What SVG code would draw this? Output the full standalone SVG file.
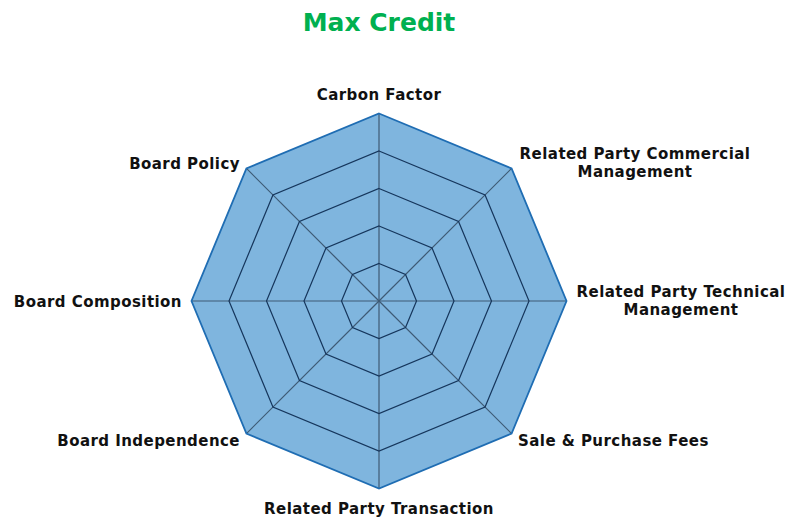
<svg xmlns="http://www.w3.org/2000/svg" width="788" height="518" viewBox="0 0 788 518">
<style>
.lbl{font-family:"DejaVu Sans","Verdana",sans-serif;font-weight:bold;font-size:15px;letter-spacing:0.45px;fill:#111}
.ring{fill:none;stroke:#16365c;stroke-width:1.2}
.spoke{stroke:#3e5a74;stroke-width:1.2}
</style>
<rect width="788" height="518" fill="#fff"/>
<text x="379" y="31" text-anchor="middle" style="font-family:'DejaVu Sans',Verdana,sans-serif;font-weight:bold;font-size:25px;fill:#00b050">Max Credit</text>
<g id="data">
<polygon points="379,113.5 511.58,168.42 566.5,301 511.58,433.58 379,488.5 246.42,433.58 191.5,301 246.42,168.42" fill="#7fb5de" stroke="none"/>
</g>
<g id="connectors">
<line class="spoke" x1="379" y1="301" x2="379" y2="113.5"/>
<line class="spoke" x1="379" y1="301" x2="511.58" y2="168.42"/>
<line class="spoke" x1="379" y1="301" x2="566.5" y2="301"/>
<line class="spoke" x1="379" y1="301" x2="511.58" y2="433.58"/>
<line class="spoke" x1="379" y1="301" x2="379" y2="488.5"/>
<line class="spoke" x1="379" y1="301" x2="246.42" y2="433.58"/>
<line class="spoke" x1="379" y1="301" x2="191.5" y2="301"/>
<line class="spoke" x1="379" y1="301" x2="246.42" y2="168.42"/>
</g>
<g id="grid">
<polygon class="ring" points="379,151 485.07,194.93 529,301 485.07,407.07 379,451 272.93,407.07 229,301 272.93,194.93"/>
<polygon class="ring" points="379,188.5 458.55,221.45 491.5,301 458.55,380.55 379,413.5 299.45,380.55 266.5,301 299.45,221.45"/>
<polygon class="ring" points="379,226 432.03,247.97 454,301 432.03,354.03 379,376 325.97,354.03 304,301 325.97,247.97"/>
<polygon class="ring" points="379,263.5 405.52,274.48 416.5,301 405.52,327.52 379,338.5 352.48,327.52 341.5,301 352.48,274.48"/>
<polygon points="379,113.5 511.58,168.42 566.5,301 511.58,433.58 379,488.5 246.42,433.58 191.5,301 246.42,168.42" fill="none" stroke="#1f6db3" stroke-width="1.8" stroke-linejoin="miter"/>
</g>
<g id="carbon-factor"><text class="lbl" x="379" y="100" text-anchor="middle">Carbon Factor</text></g>
<g id="rp-commercial"><text class="lbl" x="635" y="159" text-anchor="middle">Related Party Commercial</text><text class="lbl" x="635" y="177" text-anchor="middle">Management</text></g>
<g id="rp-technical"><text class="lbl" x="681" y="297" text-anchor="middle">Related Party Technical</text><text class="lbl" x="681" y="315" text-anchor="middle">Management</text></g>
<g id="sale-purchase"><text class="lbl" x="518" y="446">Sale &amp; Purchase Fees</text></g>
<g id="rp-transaction"><text class="lbl" x="379" y="514" text-anchor="middle">Related Party Transaction</text></g>
<g id="board-independence"><text class="lbl" x="240" y="446" text-anchor="end">Board Independence</text></g>
<g id="board-composition"><text class="lbl" x="182" y="307" text-anchor="end">Board Composition</text></g>
<g id="board-policy"><text class="lbl" x="240" y="169" text-anchor="end">Board Policy</text></g>
</svg>
